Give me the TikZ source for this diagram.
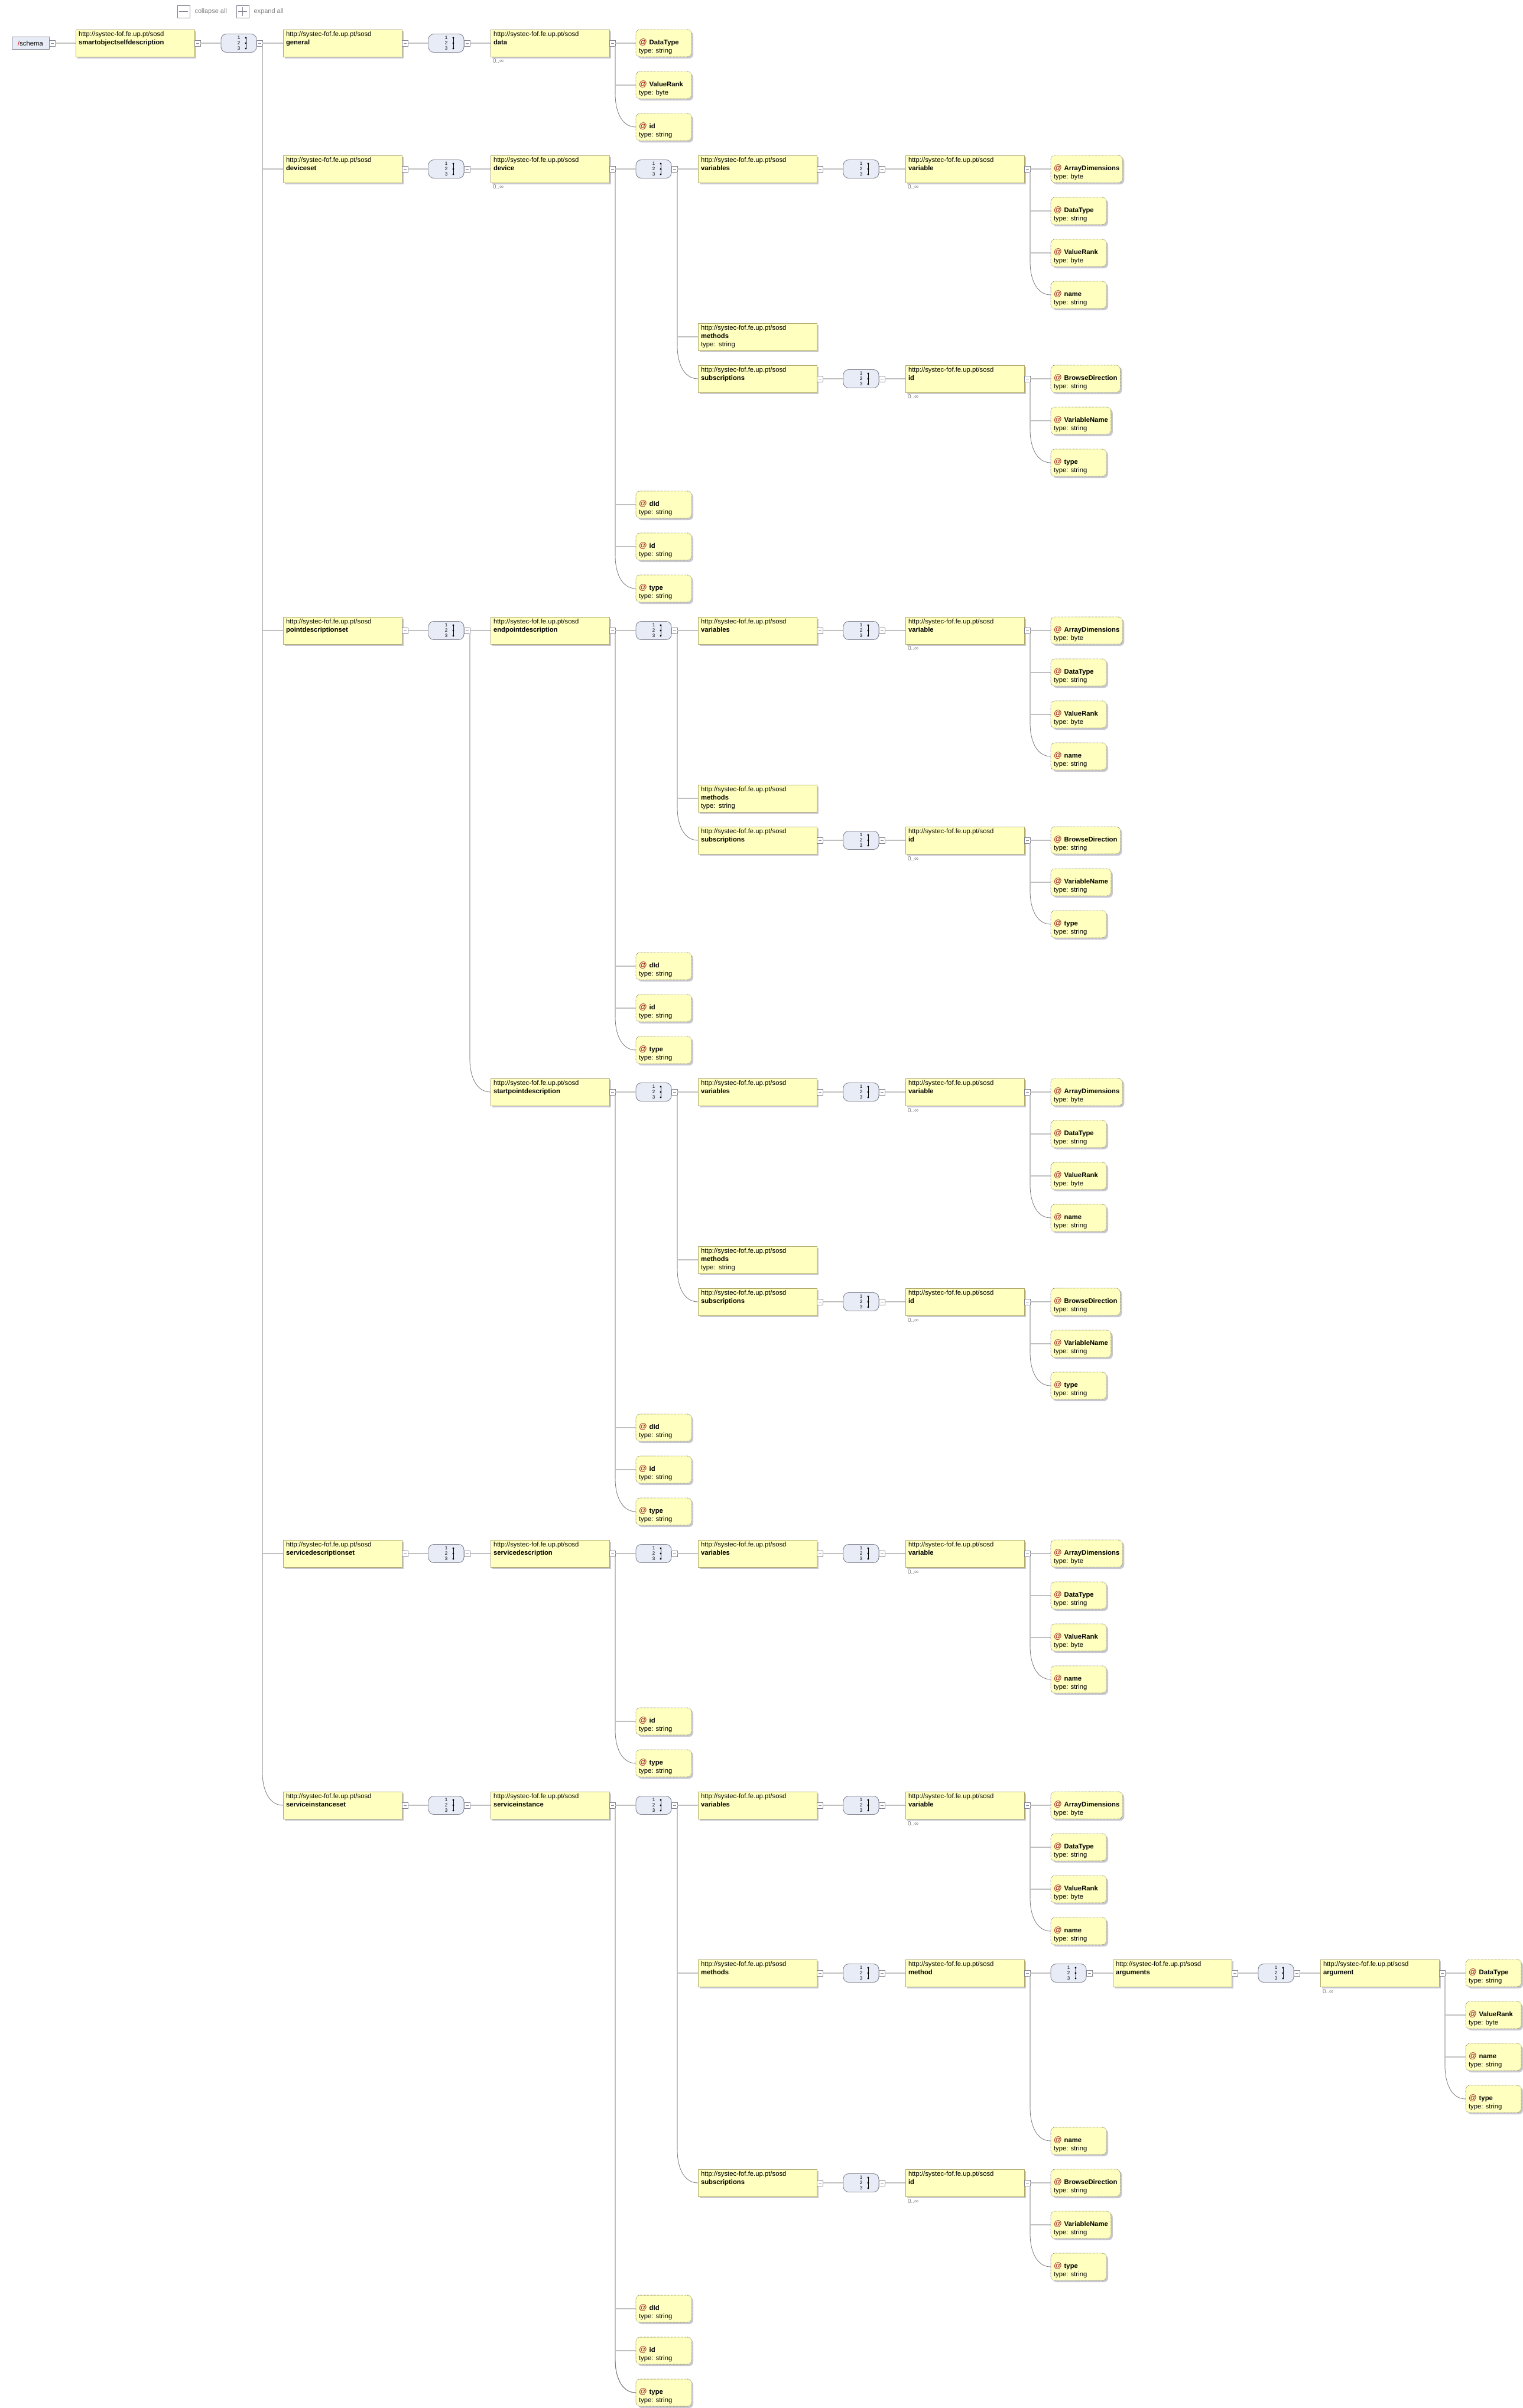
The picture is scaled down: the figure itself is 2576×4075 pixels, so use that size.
\documentclass[tikz,border=0pt]{standalone}
\usepackage{fontspec}
\setmainfont{Liberation Sans}
\usepackage{xcolor}
\usepackage{tikz}
\usetikzlibrary{positioning, shadows}

\definecolor{elemfill}{RGB}{255,255,192}
\definecolor{elemline}{RGB}{178,170,110}
\definecolor{shadowgray}{RGB}{200,200,210}
\definecolor{seqfill}{RGB}{232,236,246}
\definecolor{seqline}{RGB}{130,130,145}
\definecolor{attrline}{RGB}{150,145,100}
\definecolor{linegray}{RGB}{192,192,192}
\definecolor{curvegray}{RGB}{120,120,120}
\definecolor{atred}{RGB}{155,30,30}
\definecolor{multgray}{RGB}{128,128,128}

\newcommand{\nsuri}{http://systec-fof.fe.up.pt/sosd}
\newcommand{\elfont}{\fontsize{11.3}{14}\selectfont}
\newcommand{\eltxt}[1]{\strut\nsuri\\\strut\textbf{#1}\\\strut}
\newcommand{\eltype}[2]{\strut\nsuri\\\strut\textbf{#1}\\\strut type: #2}
\newcommand{\attxt}[2]{\strut\rule{84pt}{0pt}\\\strut\smash{\textcolor{atred}{\fontsize{13.5}{14}\selectfont @}}\kern4pt\textbf{#1}\\\strut type: #2}
\newcommand{\seqtxt}{1\\2\\3}

% branch lines from a toggle
\newcommand{\hbranch}[2]{\draw[link] (#1-t.east |- #2.west) -- (#2);}
\newcommand{\vbranch}[2]{%
  \draw[link] (#1-t.south east) -- ([yshift=55pt]#1-t.east |- #2.west);
  \draw[linkcurve] ([yshift=55pt]#1-t.east |- #2.west) to[out=-90, in=180] (#2.west);}

% variables -> variable with its attributes
\newcommand{\varsbranch}[2]{%
  \node[elem, tog, right=of #1seq] (#1vars) {\eltxt{variables}};
  \node[seqbox, tog, right=of #1vars] (#1varsseq) {\seqtxt};
  \node[elem, tog, right=of #1varsseq] (#1var) {\eltxt{variable}};
  \node[mult, below right=4pt and 4pt of #1var.south west] (#1varmult) {0..∞};
  \node[attrib, right=of #1var] (#1varAD) {\attxt{ArrayDimensions}{byte}};
  \node[attrib, anchor=west] (#1varDT) at (1778,{#2+71}) {\attxt{DataType}{string}};
  \node[attrib, anchor=west] (#1varVR) at (1778,{#2+142}) {\attxt{ValueRank}{byte}};
  \node[attrib, anchor=west] (#1varNM) at (1778,{#2+213}) {\attxt{name}{string}};
  \draw[link] (#1vars-t) -- (#1varsseq);
  \draw[link] (#1varsseq-t) -- (#1var);
  \draw[link] (#1var-t) -- (#1varAD);
  \hbranch{#1var}{#1varDT}
  \hbranch{#1var}{#1varVR}
  \vbranch{#1var}{#1varNM}}

% subscriptions -> id with its attributes
\newcommand{\subsbranch}[2]{%
  \node[elem, tog, anchor=west] (#1subs) at (1181,{#2}) {\eltxt{subscriptions}};
  \node[seqbox, tog, right=of #1subs] (#1subsseq) {\seqtxt};
  \node[elem, tog, right=of #1subsseq] (#1sid) {\eltxt{id}};
  \node[mult, below right=4pt and 4pt of #1sid.south west] (#1sidmult) {0..∞};
  \node[attrib, right=of #1sid] (#1sidBD) {\attxt{BrowseDirection}{string}};
  \node[attrib, anchor=west] (#1sidVN) at (1778,{#2+71}) {\attxt{VariableName}{string}};
  \node[attrib, anchor=west] (#1sidTY) at (1778,{#2+142}) {\attxt{type}{string}};
  \draw[link] (#1subs-t) -- (#1subsseq);
  \draw[link] (#1subsseq-t) -- (#1sid);
  \draw[link] (#1sid-t) -- (#1sidBD);
  \hbranch{#1sid}{#1sidVN}
  \vbranch{#1sid}{#1sidTY}}

% dId, id, type of a description element
\newcommand{\elattrs}[2]{%
  \node[attrib, anchor=west] (#1DI) at (1076,{#2}) {\attxt{dId}{string}};
  \node[attrib, anchor=west] (#1ID) at (1076,{#2+71}) {\attxt{id}{string}};
  \node[attrib, anchor=west] (#1TY) at (1076,{#2+142}) {\attxt{type}{string}};
  \hbranch{#1}{#1DI}
  \hbranch{#1}{#1ID}
  \vbranch{#1}{#1TY}}

% full content of device / endpoint / startpoint
\newcommand{\descbranch}[2]{%
  \node[seqbox, tog, right=of #1] (#1seq) {\seqtxt};
  \varsbranch{#1}{#2}
  \node[elem, anchor=west] (#1meth) at (1181,{#2+284}) {\eltype{methods}{string}};
  \subsbranch{#1}{#2+355}
  \elattrs{#1}{#2+568}
  \draw[link] (#1-t) -- (#1seq);
  \draw[link] (#1seq-t) -- (#1vars);
  \hbranch{#1seq}{#1meth}
  \vbranch{#1seq}{#1subs}}

\begin{document}
\begin{tikzpicture}[x=1pt, y=-1pt, node distance=45pt]
				% Styles
				\tikzstyle{elem} = [draw=elemline, line width=0.9pt, fill=elemfill, rectangle, outer sep=0pt, minimum height=46pt, text width=191pt, inner xsep=5pt, inner ysep=2pt, align=left, font=\elfont, general shadow={fill=shadowgray, shadow xshift=3pt, shadow yshift=-3pt}]
				\tikzstyle{attrib} = [draw=attrline, line width=0.9pt, dash pattern=on 1.2pt off 1.2pt, fill=elemfill, rectangle, rounded corners=7pt, outer sep=0pt, minimum height=46pt, inner xsep=5pt, inner ysep=2pt, align=left, font=\elfont, general shadow={fill=shadowgray, shadow xshift=3pt, shadow yshift=-3pt}]
				\tikzstyle{seqbox} = [draw=seqline, line width=0.9pt, fill=seqfill, rectangle, rounded corners=9pt, outer sep=0pt, minimum width=60pt, minimum height=31pt, inner sep=0pt, align=center, font=\fontsize{8}{9}\selectfont, path picture={\draw[black, line width=0.9pt] ([xshift=12pt, yshift=9pt]path picture bounding box.center) -- ([xshift=12pt, yshift=-9pt]path picture bounding box.center); \foreach \k in {-9,0,9} \fill[black] ([xshift=12pt, yshift=\k pt]path picture bounding box.center) circle (1.6pt);}]
				\tikzstyle{togbox} = [draw=seqline, line width=0.7pt, fill=white, rectangle, outer sep=0pt, minimum size=10pt, inner sep=0pt, path picture={\draw[seqline, line width=0.9pt] ([xshift=2.5pt]path picture bounding box.west) -- ([xshift=-2.5pt]path picture bounding box.east);}]
				\tikzstyle{tog} = [append after command={node[togbox, anchor=west] (\tikzlastnode-t) at (\tikzlastnode.east) {}}]
				\tikzstyle{schemabox} = [draw=seqline, line width=0.9pt, fill=seqfill, rectangle, outer sep=0pt, minimum width=63pt, minimum height=21pt, inner sep=0pt, font=\elfont]
				\tikzstyle{mult} = [font=\fontsize{10}{10}\selectfont, text=multgray, inner sep=0pt, outer sep=0pt]
				\tikzstyle{legbox} = [draw=seqline, line width=0.8pt, fill=white, rectangle, minimum size=21pt, inner sep=0pt]
				\tikzstyle{legminus} = [legbox, path picture={\draw[seqline, line width=1pt] ([xshift=3pt]path picture bounding box.west) -- ([xshift=-3pt]path picture bounding box.east);}]
				\tikzstyle{legplus} = [legbox, path picture={\draw[seqline, line width=1pt] ([xshift=3pt]path picture bounding box.west) -- ([xshift=-3pt]path picture bounding box.east); \draw[seqline, line width=1pt] ([yshift=-3pt]path picture bounding box.north) -- ([yshift=3pt]path picture bounding box.south);}]
				\tikzstyle{legtext} = [font=\fontsize{11}{11}\selectfont, text=multgray, inner sep=0pt]
				\tikzstyle{link} = [draw=linegray, line width=1.6pt]
				\tikzstyle{linkcurve} = [draw=curvegray, line width=0.8pt]

				\path[use as bounding box, fill=white] (0,0) rectangle (2576,4075);

				% Legend
				\node[legminus] (collapse) at (310.5,19.5) {};
				\node[legtext, right=8pt of collapse] (collapsetxt) {collapse all};
				\node[legplus] (expand) at (410.5,19.5) {};
				\node[legtext, right=8pt of expand] (expandtxt) {expand all};

				% Nodes
				\node[elem, tog, anchor=west] (sod) at (128,73) {\eltxt{smartobjectselfdescription}};
				\node[schemabox, tog, left=of sod] (schema) {\textcolor{red!85!black}{/}schema};
				\node[seqbox, tog, right=of sod] (sodseq) {\seqtxt};

				% general
				\node[elem, tog, right=of sodseq] (gen) {\eltxt{general}};
				\node[seqbox, tog, right=of gen] (genseq) {\seqtxt};
				\node[elem, tog, right=of genseq] (data) {\eltxt{data}};
				\node[mult, below right=4pt and 4pt of data.south west] (datamult) {0..∞};
				\node[attrib, right=of data] (dataDT) {\attxt{DataType}{string}};
				\node[attrib, anchor=west] (dataVR) at (1076,144) {\attxt{ValueRank}{byte}};
				\node[attrib, anchor=west] (dataID) at (1076,215) {\attxt{id}{string}};

				% deviceset
				\node[elem, tog, anchor=west] (dvset) at (479,286) {\eltxt{deviceset}};
				\node[seqbox, tog, right=of dvset] (dvsetseq) {\seqtxt};
				\node[elem, tog, right=of dvsetseq] (dv) {\eltxt{device}};
				\node[mult, below right=4pt and 4pt of dv.south west] (dvmult) {0..∞};
				\descbranch{dv}{286}

				% pointdescriptionset
				\node[elem, tog, anchor=west] (pdset) at (479,1067) {\eltxt{pointdescriptionset}};
				\node[seqbox, tog, right=of pdset] (pdsetseq) {\seqtxt};
				\node[elem, tog, right=of pdsetseq] (ep) {\eltxt{endpointdescription}};
				\descbranch{ep}{1067}
				\node[elem, tog, anchor=west] (sp) at (830,1848) {\eltxt{startpointdescription}};
				\descbranch{sp}{1848}

				% servicedescriptionset
				\node[elem, tog, anchor=west] (sdset) at (479,2629) {\eltxt{servicedescriptionset}};
				\node[seqbox, tog, right=of sdset] (sdsetseq) {\seqtxt};
				\node[elem, tog, right=of sdsetseq] (sd) {\eltxt{servicedescription}};
				\node[seqbox, tog, right=of sd] (sdseq) {\seqtxt};
				\varsbranch{sd}{2629}
				\node[attrib, anchor=west] (sdID) at (1076,2913) {\attxt{id}{string}};
				\node[attrib, anchor=west] (sdTY) at (1076,2984) {\attxt{type}{string}};

				% serviceinstanceset
				\node[elem, tog, anchor=west] (siset) at (479,3055) {\eltxt{serviceinstanceset}};
				\node[seqbox, tog, right=of siset] (sisetseq) {\seqtxt};
				\node[elem, tog, right=of sisetseq] (si) {\eltxt{serviceinstance}};
				\node[seqbox, tog, right=of si] (siseq) {\seqtxt};
				\varsbranch{si}{3055}
				\node[elem, tog, anchor=west] (simeth) at (1181,3339) {\eltxt{methods}};
				\node[seqbox, tog, right=of simeth] (simethseq) {\seqtxt};
				\node[elem, tog, right=of simethseq] (simethod) {\eltxt{method}};
				\node[seqbox, tog, right=of simethod] (simethodseq) {\seqtxt};
				\node[elem, tog, right=of simethodseq] (siargs) {\eltxt{arguments}};
				\node[seqbox, tog, right=of siargs] (siargsseq) {\seqtxt};
				\node[elem, tog, right=of siargsseq] (siarg) {\eltxt{argument}};
				\node[mult, below right=4pt and 4pt of siarg.south west] (siargmult) {0..∞};
				\node[attrib, right=of siarg] (siargDT) {\attxt{DataType}{string}};
				\node[attrib, anchor=west] (siargVR) at (2480,3410) {\attxt{ValueRank}{byte}};
				\node[attrib, anchor=west] (siargNM) at (2480,3481) {\attxt{name}{string}};
				\node[attrib, anchor=west] (siargTY) at (2480,3552) {\attxt{type}{string}};
				\node[attrib, anchor=west] (simethodNM) at (1778,3623) {\attxt{name}{string}};
				\subsbranch{si}{3694}
				\elattrs{si}{3907}

				% Connections
				\draw[link] (schema-t) -- (sod);
				\draw[link] (sod-t) -- (sodseq);
				\draw[link] (sodseq-t) -- (gen);
				\foreach \c in {dvset, pdset, sdset} {\hbranch{sodseq}{\c}}
				\vbranch{sodseq}{siset}
				\draw[link] (gen-t) -- (genseq);
				\draw[link] (genseq-t) -- (data);
				\draw[link] (data-t) -- (dataDT);
				\hbranch{data}{dataVR}
				\vbranch{data}{dataID}
				\draw[link] (dvset-t) -- (dvsetseq);
				\draw[link] (dvsetseq-t) -- (dv);
				\draw[link] (pdset-t) -- (pdsetseq);
				\draw[link] (pdsetseq-t) -- (ep);
				\vbranch{pdsetseq}{sp}
				\draw[link] (sdset-t) -- (sdsetseq);
				\draw[link] (sdsetseq-t) -- (sd);
				\draw[link] (sd-t) -- (sdseq);
				\draw[link] (sdseq-t) -- (sdvars);
				\hbranch{sd}{sdID}
				\vbranch{sd}{sdTY}
				\draw[link] (siset-t) -- (sisetseq);
				\draw[link] (sisetseq-t) -- (si);
				\draw[link] (si-t) -- (siseq);
				\draw[link] (siseq-t) -- (sivars);
				\hbranch{siseq}{simeth}
				\vbranch{siseq}{sisubs}
				\draw[link] (simeth-t) -- (simethseq);
				\draw[link] (simethseq-t) -- (simethod);
				\draw[link] (simethod-t) -- (simethodseq);
				\vbranch{simethod}{simethodNM}
				\draw[link] (simethodseq-t) -- (siargs);
				\draw[link] (siargs-t) -- (siargsseq);
				\draw[link] (siargsseq-t) -- (siarg);
				\draw[link] (siarg-t) -- (siargDT);
				\hbranch{siarg}{siargVR}
				\hbranch{siarg}{siargNM}
				\vbranch{siarg}{siargTY}
				\hbranch{si}{siDI}
				\hbranch{si}{siID}
				\vbranch{si}{siTY}

			\end{tikzpicture}
\end{document}
